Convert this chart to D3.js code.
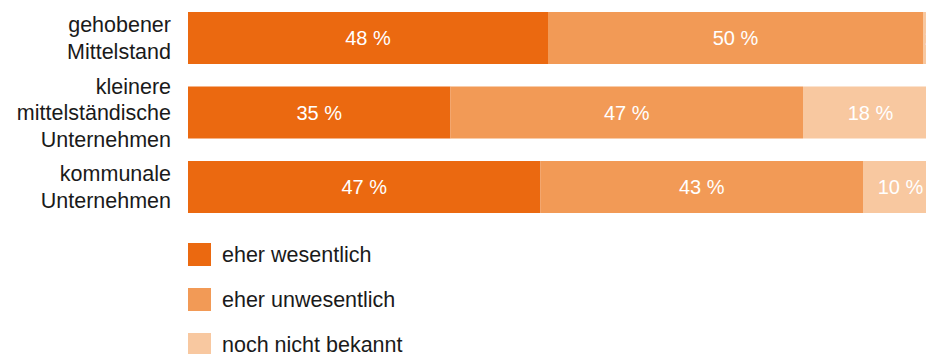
<!DOCTYPE html>
<html><head><meta charset="utf-8">
<script src="https://cdn.jsdelivr.net/npm/d3@7"></script>
<style>
html,body{margin:0;padding:0;background:#fff;overflow:hidden;}
svg{display:block;font-family:"Liberation Sans", Arial, Helvetica, sans-serif;}
</style></head>
<body><svg id="c" width="926" height="354"></svg>
<script>
const categories = [["gehobener","Mittelstand"],["kleinere","mittelständische","Unternehmen"],["kommunale","Unternehmen"]];
const seriesNames = ["eher wesentlich","eher unwesentlich","noch nicht bekannt"];
const wesentlich = [48,35,47];
const unwesentlich = [50,47,43];
const unbekannt = [2,18,10];
const colors = ["#EB6910","#F29A56","#F8C8A0"];

const svg = d3.select("#c");
const series = [wesentlich, unwesentlich, unbekannt];
const x = d3.scaleLinear().domain([0,100]).range([188,938]);
const y = d3.scaleBand().domain(d3.range(categories.length)).range([12,213]).paddingInner(0.302);

const rows = categories.map((c,i)=>{
  let acc=0;
  return series.map((s,j)=>{const r={i,j,x0:acc,x1:acc+s[i],v:s[i]}; acc+=s[i]; return r;});
});

const g = svg.append("g");
rows.forEach(row=>{
  g.selectAll(null).data(row).enter().append("rect")
    .attr("x",d=>x(d.x0)).attr("width",d=>x(d.x1)-x(d.x0))
    .attr("y",d=>y(d.i)).attr("height",y.bandwidth())
    .attr("fill",d=>colors[d.j]);
  g.selectAll(null).data(row).enter().append("text")
    .attr("x",d=>{const w=x(d.x1)-x(d.x0); return w<40 ? x(d.x0)+2 : (x(d.x0)+x(d.x1))/2;})
    .attr("text-anchor",d=>(x(d.x1)-x(d.x0))<40?"start":"middle")
    .attr("y",d=>y(d.i)+y.bandwidth()/2)
    .attr("dy","0.36em")
    .attr("fill","#fff").attr("font-size",20)
    .text(d=>d.v+" %");
});

// category labels
categories.forEach((lines,i)=>{
  const cy = y(i)+y.bandwidth()/2;
  const lh = 26.5;
  const t = svg.append("text").attr("text-anchor","end").attr("font-size",21.5).attr("fill","#1a1a1a");
  lines.forEach((l,k)=>{
    t.append("tspan").attr("x",171).attr("y",cy+(k-(lines.length-1)/2)*lh).attr("dy","0.36em").text(l);
  });
});

// legend
const ly = d3.scalePoint().domain(seriesNames).range([243,333]);
const lg = svg.append("g");
seriesNames.forEach((n,j)=>{
  lg.append("rect").attr("x",188).attr("y",ly(n)).attr("width",23).attr("height",23).attr("fill",colors[j]);
  lg.append("text").attr("x",222).attr("y",ly(n)+11.5).attr("dy","0.36em").attr("font-size",21.5).attr("fill","#1a1a1a").text(n);
});
</script></body></html>
